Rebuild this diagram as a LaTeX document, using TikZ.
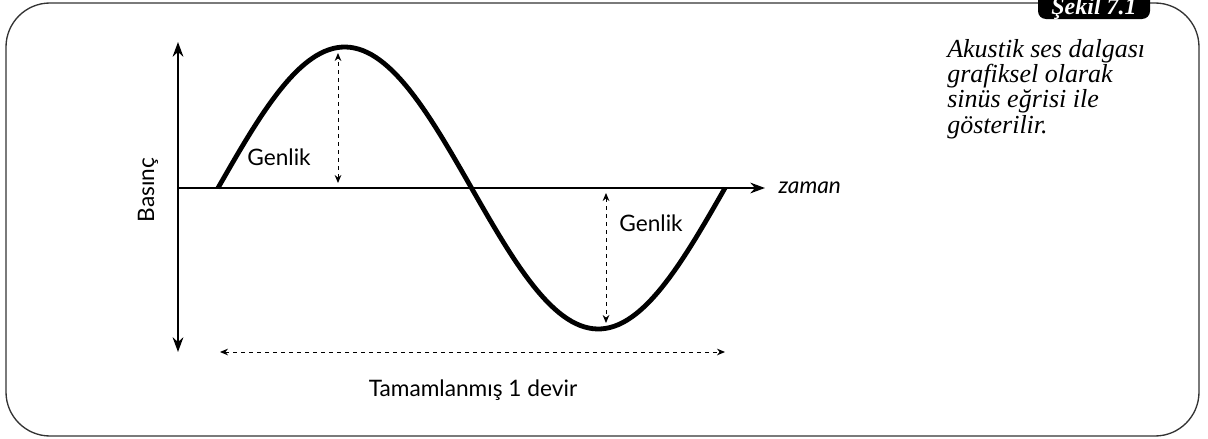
\documentclass[tikz,border=0pt]{standalone}
\usepackage{fontspec}
\setmainfont{Liberation Serif}
\newfontfamily\labelfont{Lato}
\usetikzlibrary{arrows.meta,positioning}

\begin{document}
\begin{tikzpicture}[>=Stealth, x=0.75pt, y=-0.75pt,
    lbl/.style={font=\labelfont\fontsize{17}{20}\selectfont, inner sep=0pt},
    axis/.style={line width=2pt, >={Stealth[length=11pt,width=8pt]}},
    amp/.style={<->, dashed, line width=0.7pt, >={Stealth[length=6pt,width=5pt]}}]
    \useasboundingbox (0,0) rectangle (1208,439);

    % çerçeve ve sekme
    \draw[line width=1pt, black!80, rounded corners=33pt] (6,3) rectangle (1199,436);
    \fill[black, rounded corners=6pt] (1038,-20) rectangle (1150,19);
    \node[text=white, font=\bfseries\itshape\fontsize{18}{20}\selectfont, anchor=base] (tab) at (1094,14) {Şekil 7.1};

    % açıklama
    \node[anchor=north west, align=left, inner sep=0pt,
          font=\itshape\fontsize{19.5}{19}\selectfont] (caption) at (947,39)
      {Akustik ses dalgası\\grafiksel olarak\\sinüs eğrisi ile\\gösterilir.};

    % eksenler
    \coordinate (org) at (178,188);
    \coordinate (ytop) at (178,42);
    \coordinate (ybot) at (178,352);
    \coordinate (xend) at (765,188);
    \draw[axis, <->] (ybot) -- (ytop);
    \draw[axis, ->] (org) -- (xend);
    \node[lbl, font=\labelfont\itshape\fontsize{17}{20}\selectfont, right=10pt of xend] (zaman) {zaman};
    \node[lbl, rotate=90] (basinc) at (148,190) {Basınç};

    % sinüs eğrisi (bir devir)
    \draw[line width=3.6pt] plot[domain=0:507, samples=120] ({218+\x},{188-141*sin(\x/507*360)});

    % genlik okları
    \coordinate (crest) at (338,53);
    \coordinate (crestbase) at (338,183);
    \coordinate (trough) at (606,323);
    \coordinate (troughbase) at (606,193);
    \draw[amp] (crestbase) -- (crest);
    \draw[amp] (troughbase) -- (trough);
    \node[lbl] (genlik1) at (279,157) {Genlik};
    \node[lbl] (genlik2) at (651,223) {Genlik};

    % periyot
    \coordinate (pstart) at (220,352);
    \coordinate (pend) at (725,352);
    \draw[amp] (pstart) -- (pend);
    \node[lbl] (devir) at (473,390) {Tamamlanmış 1 devir};
\end{tikzpicture}
\end{document}
